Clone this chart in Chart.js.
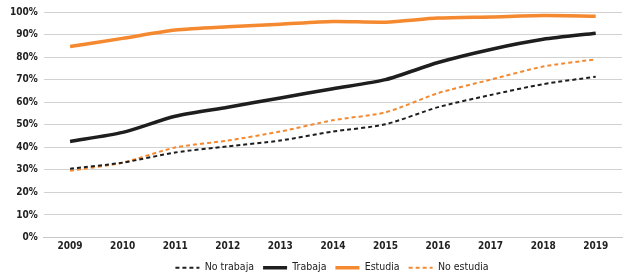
<!DOCTYPE html>
<html>
<head>
<meta charset="utf-8">
<script src="https://cdn.jsdelivr.net/npm/chart.js@4/dist/chart.umd.min.js"></script>
<style>
  html, body { margin: 0; padding: 0; background: #fff; }
  #wrap { width: 631px; height: 277px; position: relative; }
</style>
</head>
<body>
<div id="wrap"><canvas id="chart"></canvas></div>
<script>
// Data
const years = ['2009', '2010', '2011', '2012', '2013', '2014', '2015', '2016', '2017', '2018', '2019'];
const noTrabaja = [30.5, 33.2, 37.7, 40.4, 43.0, 47.0, 50.2, 57.8, 63.2, 68.0, 71.3];
const trabaja = [42.6, 46.6, 53.8, 57.8, 61.9, 66.0, 70.0, 77.6, 83.4, 87.9, 90.6];
const estudia = [84.7, 88.3, 92.0, 93.5, 94.6, 95.8, 95.5, 97.3, 97.8, 98.4, 98.1];
const noEstudia = [29.6, 33.2, 39.9, 43.0, 47.0, 52.0, 55.5, 64.0, 70.0, 75.8, 79.0];
const yTicks = [0, 10, 20, 30, 40, 50, 60, 70, 80, 90, 100];

const orange = '#f5892f';
const black = '#1e1e1e';
const fontFamily = "'Liberation Sans Narrow', 'DejaVu Sans Condensed', sans-serif";

function series(label, data, color, width, dash) {
    return {
        label: label,
        data: data,
        borderColor: color,
        backgroundColor: color,
        borderWidth: width,
        borderDash: dash,
        pointRadius: 0,
        pointHoverRadius: 0,
        pointStyle: 'line',
        tension: 0.25,
        fill: false
    };
}

// legend in the reference sits centred under the plot, not the canvas
const shiftLegend = {
    id: 'shiftLegend',
    afterLayout(chart) {
        chart.legend.left += 19;
        chart.legend.right += 19;
        chart.legend.top -= 2;
        chart.legend.bottom -= 2;
    }
};

const ctx = document.getElementById('chart').getContext('2d');
new Chart(ctx, {
    type: 'line',
    data: {
        labels: years,
        datasets: [
            series('No trabaja', noTrabaja, black, 2, [4, 3]),
            series('Trabaja', trabaja, black, 3.5, []),
            series('Estudia', estudia, orange, 3.5, []),
            series('No estudia', noEstudia, orange, 2, [4, 3])
        ]
    },
    plugins: [shiftLegend],
    options: {
        responsive: true,
        maintainAspectRatio: false,
        animation: false,
        layout: { padding: { left: 4, right: 9, top: 9, bottom: -8 } },
        plugins: {
            legend: {
                position: 'bottom',
                labels: {
                    usePointStyle: true,
                    pointStyleWidth: 24,
                    color: '#222',
                    padding: 9,
                    font: { family: fontFamily, size: 10.5 },
                    generateLabels: chart => {
                        const items = Chart.defaults.plugins.legend.labels.generateLabels(chart);
                        items.forEach(item => {
                            const ds = chart.data.datasets[item.datasetIndex];
                            item.lineDash = ds.borderDash;
                            item.lineWidth = ds.borderWidth;
                            item.strokeStyle = ds.borderColor;
                        });
                        return items;
                    }
                }
            },
            tooltip: { enabled: false }
        },
        scales: {
            x: {
                offset: true,
                grid: { display: false, drawTicks: false },
                border: { display: true, color: '#c8c8c8', width: 1 },
                ticks: {
                    color: '#222',
                    padding: 3,
                    font: { family: fontFamily, size: 10, weight: 'bold' }
                }
            },
            y: {
                min: 0,
                max: 100,
                afterBuildTicks: axis => {
                    axis.ticks = yTicks.map(v => ({ value: v }));
                },
                grid: { color: '#d2d2d2', drawTicks: false },
                border: { display: false },
                ticks: {
                    color: '#222',
                    padding: 6,
                    font: { family: fontFamily, size: 10, weight: 'bold' },
                    callback: v => v + '%'
                }
            }
        }
    }
});
</script>
</body>
</html>
